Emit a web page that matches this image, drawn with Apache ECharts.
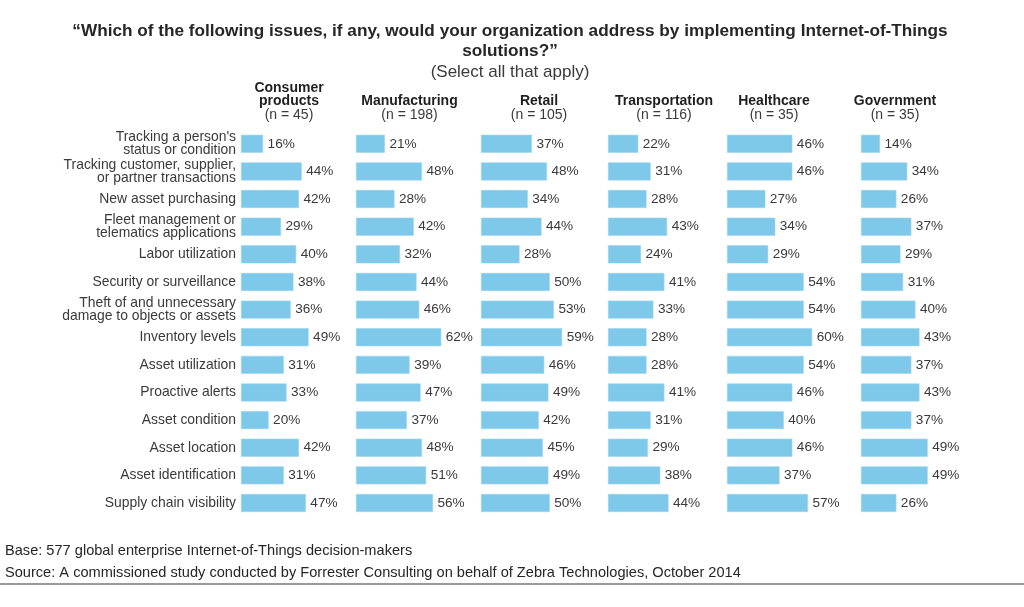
<!DOCTYPE html>
<html>
<head>
<meta charset="utf-8">
<script src="https://cdn.jsdelivr.net/npm/echarts@6/dist/echarts.min.js"></script>
<style>
html,body{margin:0;padding:0;background:#fff;}
#chart{width:1024px;height:607px;}
</style>
</head>
<body>
<div id="chart"></div>
<script>
var categories = [
  "Tracking a person's\nstatus or condition",
  "Tracking customer, supplier,\nor partner transactions",
  "New asset purchasing",
  "Fleet management or\ntelematics applications",
  "Labor utilization",
  "Security or surveillance",
  "Theft of and unnecessary\ndamage to objects or assets",
  "Inventory levels",
  "Asset utilization",
  "Proactive alerts",
  "Asset condition",
  "Asset location",
  "Asset identification",
  "Supply chain visibility"
];
var segments = ["Consumer\nproducts", "Manufacturing", "Retail", "Transportation", "Healthcare", "Government"];
var sampleSizes = ["(n = 45)", "(n = 198)", "(n = 105)", "(n = 116)", "(n = 35)", "(n = 35)"];
var consumerProducts = [16, 44, 42, 29, 40, 38, 36, 49, 31, 33, 20, 42, 31, 47];
var manufacturing = [21, 48, 28, 42, 32, 44, 46, 62, 39, 47, 37, 48, 51, 56];
var retail = [37, 48, 34, 44, 28, 50, 53, 59, 46, 49, 42, 45, 49, 50];
var transportation = [22, 31, 28, 43, 24, 41, 33, 28, 28, 41, 31, 29, 38, 44];
var healthcare = [46, 46, 27, 34, 29, 54, 54, 60, 54, 46, 40, 46, 37, 57];
var government = [14, 34, 26, 37, 29, 31, 40, 43, 37, 43, 37, 49, 49, 26];
var titleText = "\u201cWhich of the following issues, if any, would your organization address by implementing Internet-of-Things\nsolutions?\u201d";
var subtitleText = "(Select all that apply)";
var baseNote = "Base: 577 global enterprise Internet-of-Things decision-makers";
var sourceNote = "Source: A commissioned study conducted by Forrester Consulting on behalf of Zebra Technologies, October 2014";

var seriesValues = [consumerProducts, manufacturing, retail, transportation, healthcare, government];
var panelLeft = [241, 356, 481, 608, 727, 861];
var panelScale = [1.38, 1.375, 1.375, 1.375, 1.42, 1.36];
var headerCenter = [289, 409.5, 539, 664, 774, 895];

var FONT = '"Liberation Sans", Arial, Helvetica, sans-serif';
var rowBand = 27.63;
var gridTop = 143.8 - rowBand / 2;
var gridHeight = rowBand * categories.length;

var grids = [], xAxes = [], yAxes = [], series = [], graphics = [];
for (var i = 0; i < seriesValues.length; i++) {
  grids.push({left: panelLeft[i], top: gridTop, width: panelScale[i] * 100, height: gridHeight, containLabel: false});
  xAxes.push({type: 'value', gridIndex: i, min: 0, max: 100, show: false});
  yAxes.push({
    type: 'category', gridIndex: i, data: categories, inverse: true,
    axisLine: {show: false}, axisTick: {show: false},
    axisLabel: {show: i === 0, margin: 5, fontFamily: FONT, fontSize: 13.9, color: '#3a3a3a', lineHeight: 13.5, align: 'right'}
  });
  series.push({
    type: 'bar', xAxisIndex: i, yAxisIndex: i, data: seriesValues[i], barWidth: 18,
    itemStyle: {color: '#7EC8EA', borderColor: '#9AD5F0', borderWidth: 0.6},
    label: {show: true, position: 'right', distance: 4.5, formatter: '{c}%', fontFamily: FONT, fontSize: 13.6, color: '#3a3a3a'},
    silent: true, animation: false
  });
  var nLines = segments[i].split('\n').length;
  graphics.push({
    type: 'text', x: headerCenter[i], y: 101.2 - (nLines - 1) * 13.4 / 2,
    style: {text: segments[i], textAlign: 'center', textVerticalAlign: 'middle', fontFamily: FONT, fontSize: 14, fontWeight: 'bold', fill: '#1f1f1f', lineHeight: 13.4}
  });
  graphics.push({
    type: 'text', x: headerCenter[i], y: 115,
    style: {text: sampleSizes[i], textAlign: 'center', textVerticalAlign: 'middle', fontFamily: FONT, fontSize: 14, fill: '#3a3a3a'}
  });
}

graphics.push({
  type: 'text', x: 510, y: 41.2,
  style: {text: titleText, textAlign: 'center', textVerticalAlign: 'middle', fontFamily: FONT, fontSize: 17.2, fontWeight: 'bold', fill: '#262626', lineHeight: 20}
});
graphics.push({
  type: 'text', x: 510, y: 72,
  style: {text: subtitleText, textAlign: 'center', textVerticalAlign: 'middle', fontFamily: FONT, fontSize: 17, fill: '#3a3a3a'}
});
graphics.push({
  type: 'text', x: 5, y: 550.5,
  style: {text: baseNote, textAlign: 'left', textVerticalAlign: 'middle', fontFamily: FONT, fontSize: 14.6, fill: '#262626'}
});
graphics.push({
  type: 'text', x: 5, y: 572.7,
  style: {text: sourceNote, textAlign: 'left', textVerticalAlign: 'middle', fontFamily: FONT, fontSize: 14.6, fill: '#262626'}
});
graphics.push({
  type: 'rect', shape: {x: 0, y: 583, width: 1024, height: 2},
  style: {fill: '#9a9a9a'}
});

var chart = echarts.init(document.getElementById('chart'), null, {renderer: 'canvas'});
chart.setOption({
  backgroundColor: '#ffffff',
  animation: false,
  grid: grids,
  xAxis: xAxes,
  yAxis: yAxes,
  series: series,
  graphic: graphics
});
</script>
</body>
</html>
